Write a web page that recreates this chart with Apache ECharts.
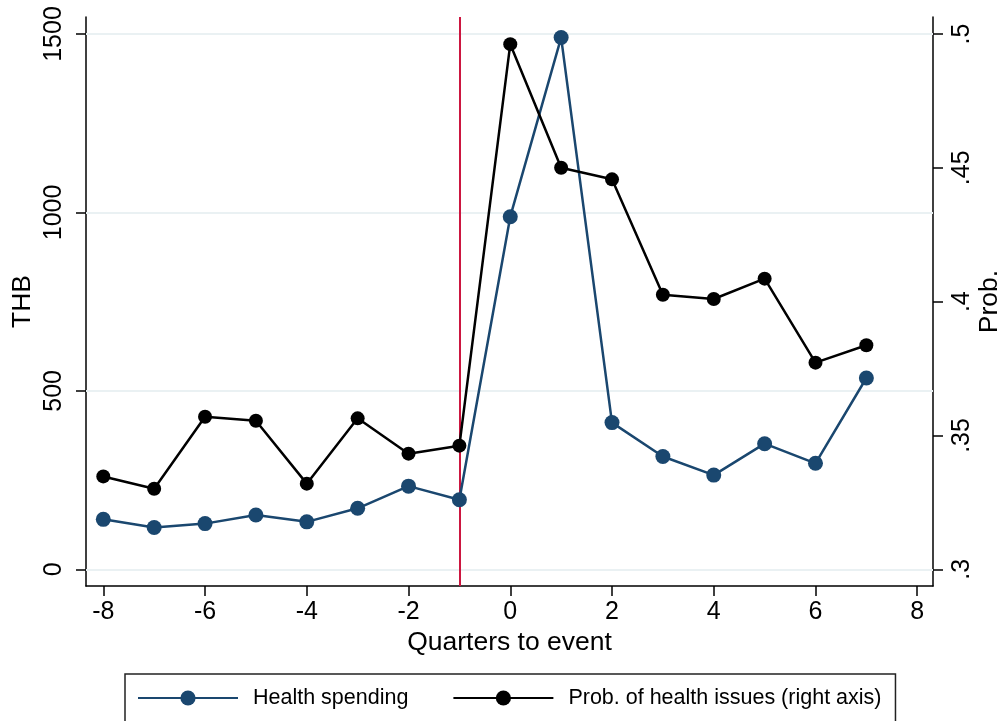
<!DOCTYPE html>
<html>
<head>
<meta charset="utf-8">
<script src="https://cdn.jsdelivr.net/npm/echarts@6/dist/echarts.min.js"></script>
<style>
  html, body { margin: 0; padding: 0; background: #fff; }
  #chart { width: 1003px; height: 721px; }
</style>
</head>
<body>
<div id="chart"></div>
<script>
// Quarters relative to the health event
const quarters = [-8, -7, -6, -5, -4, -3, -2, -1, 0, 1, 2, 3, 4, 5, 6, 7];
// Health spending (THB), left axis
const healthSpending = [140, 117, 128, 152, 133, 171, 233, 195, 988, 1490, 411, 316, 264, 352, 297, 536];
// Probability of health issues, right axis
const probHealth = [0.3347, 0.3301, 0.3570, 0.3555, 0.3320, 0.3564, 0.3432, 0.3462,
                    0.4962, 0.4500, 0.4457, 0.4026, 0.4010, 0.4086, 0.3772, 0.3837];
// Tick labels
const xTicks = [-8, -6, -4, -2, 0, 2, 4, 6, 8];
const leftTicks = [0, 500, 1000, 1500];
const rightTicks = [0.3, 0.35, 0.4, 0.45, 0.5];
const eventQuarter = -1;

const seriesNames = ['Health spending', 'Prob. of health issues (right axis)'];

const FONT = '"Liberation Sans", Arial, Helvetica, sans-serif';
const NAVY = '#1a476f';
const AXIS_COLOR = '#000';

const chart = echarts.init(document.getElementById('chart'), null, { renderer: 'canvas' });

const axisLineStyle = { show: true, lineStyle: { color: AXIS_COLOR, width: 1.5 } };
const axisTickStyle = (vals) => ({
  show: true, inside: false, length: 10, customValues: vals,
  lineStyle: { color: AXIS_COLOR, width: 1.5 }
});

const option = {
  animation: false,
  backgroundColor: '#fff',
  grid: { left: 86, right: 70, top: 17, bottom: 135, containLabel: false, outerBoundsMode: 'none' },
  xAxis: {
    type: 'value',
    min: -8.34, max: 8.31,
    name: 'Quarters to event',
    nameLocation: 'middle',
    nameGap: 43,
    nameMoveOverlap: false,
    nameTextStyle: { fontFamily: FONT, fontSize: 26.5, color: '#000' },
    axisLine: Object.assign({ onZero: false }, axisLineStyle),
    axisTick: axisTickStyle(xTicks),
    axisLabel: {
      customValues: xTicks, margin: 14,
      fontFamily: FONT, fontSize: 25, color: '#000',
      formatter: (v) => String(v)
    },
    splitLine: { show: false }
  },
  yAxis: [
    {
      type: 'value',
      position: 'left',
      min: -46.8, max: 1547.6,
      name: 'THB',
      nameLocation: 'middle',
      nameRotate: 90,
      nameGap: 50,
      nameMoveOverlap: false,
      nameTextStyle: { fontFamily: FONT, fontSize: 26.5, color: '#000' },
      axisLine: Object.assign({ onZero: false }, axisLineStyle),
      axisTick: axisTickStyle(leftTicks),
      axisLabel: {
        customValues: leftTicks, rotate: 90, margin: 19,
        fontFamily: FONT, fontSize: 25, color: '#000',
        formatter: (v) => String(Math.round(v))
      },
      splitLine: { show: false }
    },
    {
      type: 'value',
      position: 'right',
      min: 0.29376, max: 0.50635,
      name: 'Prob.',
      nameLocation: 'middle',
      nameRotate: 90,
      nameGap: 43,
      nameMoveOverlap: false,
      nameTextStyle: { fontFamily: FONT, fontSize: 26.5, color: '#000' },
      axisLine: Object.assign({ onZero: false }, axisLineStyle),
      axisTick: axisTickStyle(rightTicks),
      axisLabel: {
        customValues: rightTicks, rotate: 90, margin: 17,
        fontFamily: FONT, fontSize: 25, color: '#000',
        formatter: (v) => String(+v.toFixed(2)).replace(/^0(?=\.)/, '')
      },
      splitLine: { show: false }
    }
  ],
  legend: {
    data: seriesNames,
    orient: 'horizontal',
    left: 125, top: 674,
    padding: [13, 14, 40, 12],
    itemGap: 44,
    itemWidth: 100,
    itemHeight: 19,
    borderColor: '#222',
    borderWidth: 1.5,
    borderRadius: 0,
    textStyle: { fontFamily: FONT, fontSize: 21.5, color: '#000', padding: [0, 0, 0, 10] }
  },
  series: [
    {
      // horizontal gridlines and the event marker line, kept beneath the data
      type: 'line',
      name: 'guides',
      data: [],
      yAxisIndex: 0,
      z: 1,
      silent: true,
      markLine: {
        z: 1,
        silent: true,
        symbol: ['none', 'none'],
        label: { show: false },
        animation: false,
        data: leftTicks.map(v => ({
          yAxis: v,
          lineStyle: { color: '#eaf1f3', width: 2, type: 'solid' }
        })).concat([{
          xAxis: eventQuarter,
          lineStyle: { color: '#cc1640', width: 2, type: 'solid' }
        }])
      }
    },
    {
      name: seriesNames[0],
      type: 'line',
      yAxisIndex: 0,
      z: 3,
      data: quarters.map((q, i) => [q, healthSpending[i]]),
      symbol: 'circle',
      symbolSize: 15,
      itemStyle: { color: NAVY, borderWidth: 0 },
      lineStyle: { color: NAVY, width: 2.5 }
    },
    {
      name: seriesNames[1],
      type: 'line',
      yAxisIndex: 1,
      z: 3,
      data: quarters.map((q, i) => [q, probHealth[i]]),
      symbol: 'circle',
      symbolSize: 14,
      itemStyle: { color: '#000', borderWidth: 0 },
      lineStyle: { color: '#000', width: 2.5 }
    }
  ]
};

chart.setOption(option);
</script>
</body>
</html>
